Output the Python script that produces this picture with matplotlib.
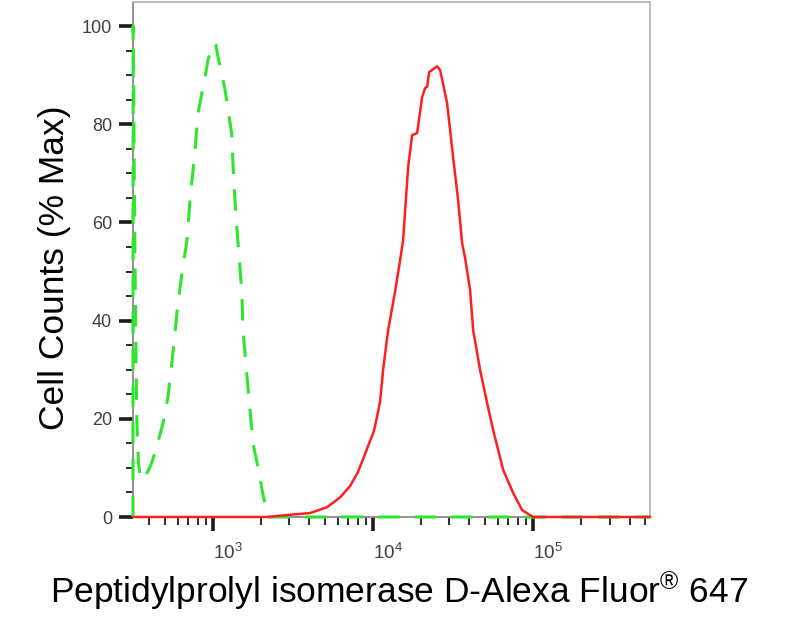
import math
import matplotlib
matplotlib.use("Agg")
import matplotlib.pyplot as plt
from matplotlib.ticker import FixedLocator, LogLocator, NullFormatter, FuncFormatter

plt.rcParams['font.family'] = ['Liberation Sans', 'DejaVu Sans']

# Positive sample (red, solid)
red_x = [316, 2175, 2900, 4040, 5160, 6220, 7180, 8000, 8660, 9570, 10000, 10290,
         11060, 11550, 12410, 13730, 14750, 15400, 16560, 17540, 18840, 20240,
         21130, 21750, 22390, 25120, 26240, 29000, 31620, 33970, 35980, 37580,
         40380, 42170, 46660, 51580, 56230, 64940, 74990, 85350, 100000, 537000]
red_y = [0, 0, 0.4, 0.8, 2.0, 4.0, 6.3, 9.0, 11.8, 15.5, 17.0, 18.5,
         23.5, 30.0, 38.0, 46.0, 52.3, 56.4, 71.3, 77.8, 78.2, 85.5,
         87.4, 87.6, 90.6, 91.8, 91.0, 84.3, 73.3, 64.6, 55.8, 52.7,
         46.2, 38.1, 29.9, 23.2, 17.7, 9.6, 4.9, 1.4, 0, 0]

# Isotype control (green, dashed)
green_x = [316, 317, 322, 328, 334, 342, 352, 365, 395, 416, 453, 487, 523, 554,
           604, 645, 688, 718, 772, 806, 891, 931, 1000, 1040, 1075, 1189, 1309,
           1340, 1392, 1460, 1511, 1540, 1631, 1778, 1884, 2054, 2207, 537000]
green_y = [0, 100, 70, 40, 20, 11, 8, 7.5, 9.5, 11.2, 15.3, 19.1, 24.4, 31.6,
           43.6, 50.5, 56.4, 64.6, 74.7, 82.3, 89.6, 93.1, 96.5, 96.2, 93.7, 87,
           78, 70, 61, 52.5, 46, 38, 28.5, 15, 11, 4.5, 0, 0]

y_major = [0, 20, 40, 60, 80, 100]
x_major = [1e3, 1e4, 1e5]

fig = plt.figure(figsize=(7.9, 6.24), dpi=100)
ax = fig.add_axes([133/790, 1-517/624, (650-133)/790, (517-2)/624])

ax.plot(green_x, green_y, color='#2ee62e', lw=2.2, linestyle=(0, (7, 5)),
        clip_on=False, zorder=3)
ax.plot(red_x, red_y, color='#ff1f1f', lw=1.8, clip_on=False, zorder=4)

ax.set_xscale('log')
ax.set_xlim(10**2.5, 10**5.73)
ax.set_ylim(0, 104.9)

ax.xaxis.set_major_locator(FixedLocator(x_major))
ax.xaxis.set_major_formatter(FuncFormatter(
    lambda v, p: r'$\mathregular{10^{%d}}$' % round(math.log10(v))))
ax.xaxis.set_minor_locator(LogLocator(base=10, subs=[2, 3, 4, 5, 6, 7, 8, 9]))
ax.xaxis.set_minor_formatter(NullFormatter())

ax.yaxis.set_major_locator(FixedLocator(y_major))
ax.yaxis.set_minor_locator(FixedLocator([v for v in range(5, 105, 5) if v % 20]))

ax.tick_params(axis='both', which='major', direction='out', width=2.6,
               color='#1a1a1a')
ax.tick_params(axis='y', which='major', length=10, pad=5, labelsize=13,
               labelcolor='#404040')
ax.tick_params(axis='x', which='major', length=10, pad=9, labelsize=13.5,
               labelcolor='#404040')
ax.tick_params(axis='both', which='minor', direction='out', width=1.3,
               color='#1a1a1a')
ax.tick_params(axis='y', which='minor', length=5)
ax.tick_params(axis='x', which='minor', length=6)

fig.canvas.draw()
for lbl in ax.get_xticklabels():
    lbl.set_horizontalalignment('left')

for s in ['left', 'bottom']:
    ax.spines[s].set_color('#8a8a8a')
    ax.spines[s].set_linewidth(1.3)
for s in ['top', 'right']:
    ax.spines[s].set_color('#b5b5b5')
    ax.spines[s].set_linewidth(1.3)

fig.text(55/790, 1-268/624, 'Cell Counts (% Max)', rotation=90,
         ha='center', va='center', fontsize=25.5, color='black')
fig.text(399/790, 1-603/624,
         r'Peptidylprolyl isomerase D-Alexa Fluor$\mathregular{^{®}}$ 647',
         ha='center', va='baseline', fontsize=25.5, color='black')

fig.savefig('out.png', dpi=100)
